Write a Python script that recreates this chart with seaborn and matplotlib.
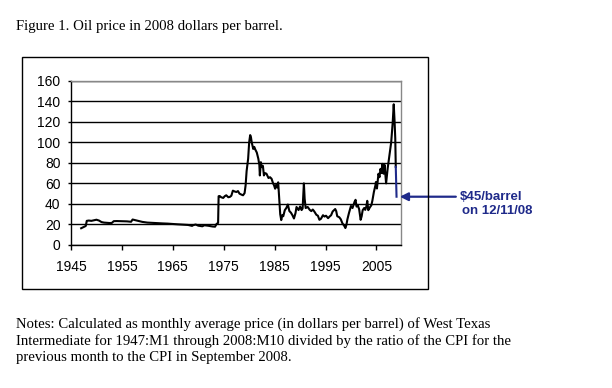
import numpy as np
import pandas as pd
import matplotlib
matplotlib.use("Agg")
import matplotlib.pyplot as plt
import matplotlib.patches as patches
import seaborn as sns

years = [1947.0, 1947.5, 1947.9, 1948.1, 1948.5, 1949.0, 1949.5, 1950.0, 1950.5, 1951.0,
         1951.5, 1952.0, 1952.5, 1953.0, 1953.4, 1954.0, 1955.0, 1956.0, 1956.8, 1957.1,
         1957.5, 1958.0, 1959.0, 1960.0, 1961.0, 1962.0, 1963.0, 1964.0, 1965.0, 1966.0,
         1967.0, 1968.0, 1968.8, 1969.0, 1969.5, 1970.0, 1970.8, 1971.2, 1972.0, 1972.8,
         1973.3, 1973.6, 1973.9, 1974.0, 1974.2, 1974.5, 1974.9, 1975.2, 1975.5, 1975.9,
         1976.2, 1976.5, 1976.8, 1977.2, 1977.5, 1977.8, 1978.1, 1978.5, 1978.8, 1979.1,
         1979.3, 1979.5, 1979.8, 1980.0, 1980.2, 1980.35, 1980.5, 1980.8, 1981.0, 1981.2,
         1981.5, 1981.8, 1982.0, 1982.1, 1982.3, 1982.5, 1982.7, 1982.9, 1983.1, 1983.4,
         1983.8, 1984.1, 1984.4, 1984.7, 1984.9, 1985.1, 1985.3, 1985.5, 1985.7, 1985.9,
         1986.1, 1986.3, 1986.5, 1986.7, 1987.0, 1987.3, 1987.6, 1987.9, 1988.2, 1988.5,
         1988.8, 1989.1, 1989.3, 1989.7, 1990.0, 1990.3, 1990.5, 1990.6, 1990.75, 1990.9,
         1991.1, 1991.5, 1991.9, 1992.2, 1992.5, 1992.8, 1993.2, 1993.5, 1993.8, 1994.1,
         1994.5, 1994.8, 1995.1, 1995.5, 1995.8, 1996.1, 1996.4, 1996.9, 1997.1, 1997.3,
         1997.7, 1998.0, 1998.3, 1998.7, 1998.9, 1999.1, 1999.3, 1999.6, 2000.0, 2000.3,
         2000.7, 2000.9, 2001.1, 2001.3, 2001.6, 2001.9, 2002.1, 2002.3, 2002.6, 2002.8,
         2003.0, 2003.2, 2003.4, 2003.7, 2004.0, 2004.2, 2004.5, 2004.8, 2004.9, 2005.1,
         2005.4, 2005.6, 2005.8, 2006.0, 2006.2, 2006.4, 2006.6, 2006.9, 2007.2, 2007.5,
         2007.9, 2008.2, 2008.4, 2008.55, 2008.7, 2008.8]
price = [16.3, 17.5, 18.5, 23.5, 23.8, 23.5, 24.0, 24.6, 23.8, 22.3,
         21.8, 21.6, 21.4, 21.4, 23.2, 23.3, 23.2, 23.0, 22.6, 24.8,
         24.3, 23.7, 22.5, 21.8, 21.5, 21.3, 21.0, 20.8, 20.4, 20.1,
         19.8, 19.5, 18.6, 19.3, 19.9, 18.8, 18.2, 19.2, 18.7, 18.0,
         17.8, 20.5, 21.5, 47.5, 47.7, 46.5, 45.8, 47.5, 48.4, 46.5,
         46.8, 48.0, 52.9, 52.0, 51.6, 52.5, 50.0, 49.0, 48.4, 50.5,
         58.0, 72.0, 84.0, 100.0, 107.0, 105.0, 100.0, 93.5, 95.5, 93.0,
         90.0, 84.0, 78.0, 67.7, 80.6, 75.8, 77.0, 67.7, 70.0, 69.4,
         65.2, 66.0, 64.5, 60.0, 58.0, 54.8, 58.7, 56.0, 61.0, 45.0,
         30.0, 24.2, 29.0, 28.0, 33.9, 36.0, 39.4, 33.0, 31.5, 29.0,
         25.8, 31.0, 37.0, 34.0, 37.5, 34.0, 35.5, 45.0, 60.0, 45.0,
         36.0, 37.0, 34.2, 33.0, 34.5, 32.6, 29.4, 28.5, 24.5, 25.5,
         29.0, 27.7, 28.5, 26.1, 27.7, 29.0, 32.6, 35.0, 33.0, 28.0,
         27.0, 25.0, 21.3, 18.5, 16.5, 19.5, 25.0, 31.0, 38.0, 36.0,
         42.0, 44.0, 37.4, 39.0, 35.0, 24.5, 28.0, 33.9, 36.0, 34.2,
         37.0, 43.0, 33.9, 36.5, 38.7, 43.0, 51.6, 58.0, 61.3, 55.0,
         69.4, 66.0, 74.2, 70.0, 79.0, 69.4, 78.0, 60.0, 74.2, 85.5,
         100.0, 119.4, 137.0, 122.0, 104.0, 76.0]

# drop after the last monthly value, down to the 12/11/08 spot price
drop_years = [2008.8, 2008.95]
drop_price = [76.0, 47.0]

year_ticks = [1945, 1955, 1965, 1975, 1985, 1995, 2005]
price_ticks = [0, 20, 40, 60, 80, 100, 120, 140, 160]

df = pd.DataFrame({'year': years, 'price': price})
df_drop = pd.DataFrame({'year': drop_years, 'price': drop_price})

#%% Plot

navy = '#1f2a8a'
fig = plt.figure(figsize=(6.12, 3.88), dpi=100)
ax = fig.add_axes([0.116, 0.3686, 0.539, 0.4235])

sns.lineplot(data=df, x='year', y='price', color='black', lw=1.5,
             estimator=None, sort=False, ax=ax)
sns.lineplot(data=df_drop, x='year', y='price', color=navy, lw=1.5,
             estimator=None, sort=False, ax=ax)

ax.set_xlim(1945, 2009.8)
ax.set_ylim(0, 160)
ax.set_xticks(year_ticks)
ax.set_yticks(price_ticks)
ax.set_xlabel('')
ax.set_ylabel('')
ax.yaxis.grid(True, color='black', lw=1.0)
ax.set_axisbelow(True)
for side in ['top', 'right']:
    ax.spines[side].set_color('#888888')
    ax.spines[side].set_linewidth(1.0)
for side in ['left', 'bottom']:
    ax.spines[side].set_color('black')
    ax.spines[side].set_linewidth(1.0)
ax.tick_params(axis='y', direction='out', length=2.5, width=1, pad=5,
               labelsize=10, colors='black')
ax.tick_params(axis='x', direction='out', length=3.6, width=1, pad=7.5,
               labelsize=10, colors='black')
for lab in ax.get_xticklabels() + ax.get_yticklabels():
    lab.set_family('Liberation Sans')

# arrow + label
ax.annotate('', xy=(2009.6, 47), xytext=(2020.6, 47), xycoords='data',
            arrowprops=dict(arrowstyle='-|>', color=navy, lw=1.6,
                            mutation_scale=12, shrinkA=0, shrinkB=0),
            annotation_clip=False)
fig.text(460 / 612, 1 - 196.5 / 388, r'\$45/barrel', color=navy, fontsize=9.5,
         fontweight='bold', family='Liberation Sans', va='center', ha='left')
fig.text(462 / 612, 1 - 211.5 / 388, 'on 12/11/08', color=navy, fontsize=9.5,
         fontweight='bold', family='Liberation Sans', va='center', ha='left')

# chart frame
fig.patches.append(patches.Rectangle((22 / 612, 1 - 289 / 388), 406 / 612, 232 / 388,
                                     transform=fig.transFigure, fill=False,
                                     edgecolor='black', lw=1.0))

# caption and notes
fig.text(16 / 612, 1 - 30 / 388, 'Figure 1. Oil price in 2008 dollars per barrel.',
         fontsize=10.6, family='Liberation Serif', va='baseline', ha='left')
notes = ['Notes: Calculated as monthly average price (in dollars per barrel) of West Texas',
         'Intermediate for 1947:M1 through 2008:M10 divided by the ratio of the CPI for the',
         'previous month to the CPI in September 2008.']
for i, line in enumerate(notes):
    fig.text(16 / 612, 1 - (328.3 + 16.5 * i) / 388, line, fontsize=10.6,
             family='Liberation Serif', va='baseline', ha='left')

fig.savefig('out.png', dpi=100, facecolor='white')
